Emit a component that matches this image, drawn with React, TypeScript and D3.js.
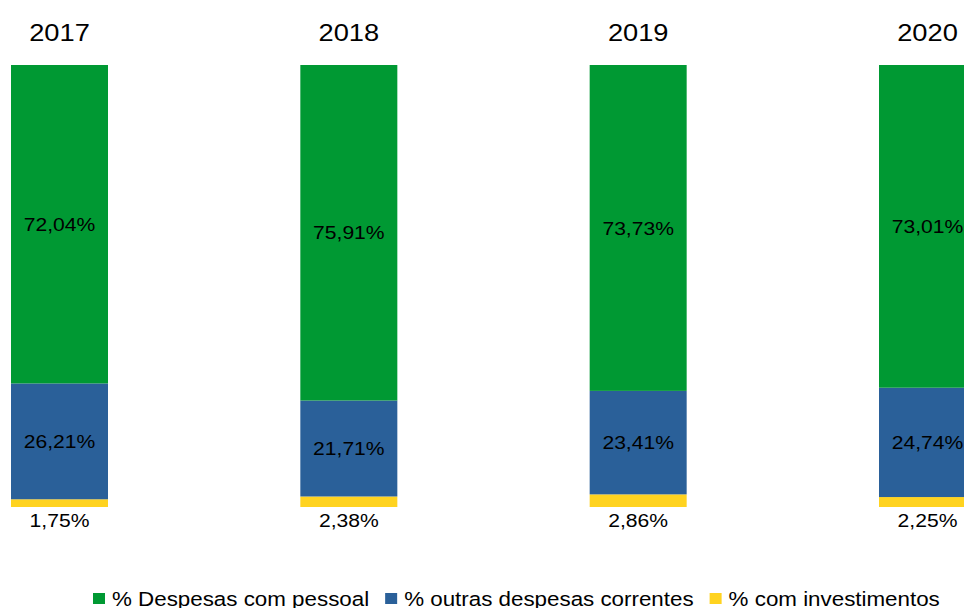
import { useEffect, useRef } from "react";
import * as d3 from "d3";

const years = ["2017", "2018", "2019", "2020"];
const pessoal = [72.04, 75.91, 73.73, 73.01];
const outras = [26.21, 21.71, 23.41, 24.74];
const investimentos = [1.75, 2.38, 2.86, 2.25];
const seriesNames = ["% Despesas com pessoal", "% outras despesas correntes", "% com investimentos"];
const seriesColors = ["#009933", "#2a6099", "#ffd320"];

const W = 964;
const H = 608;
const SX = 1.135; // text in the picture is a bit wider than tall

const fmt = (v: number) => v.toFixed(2).replace(".", ",") + "%";

const App = () => {
  const ref = useRef<SVGSVGElement | null>(null);

  useEffect(() => {
    const svg = d3.select(ref.current);
    svg.selectAll("*").remove();

    const rows = years.map((y, i) => ({
      year: y,
      inv: investimentos[i],
      out: outras[i],
      pes: pessoal[i],
    }));
    const keys = ["inv", "out", "pes"];
    const colorOf: Record<string, string> = { pes: seriesColors[0], out: seriesColors[1], inv: seriesColors[2] };

    const x = d3.scalePoint<string>().domain(years).range([59.5, 927.5]);
    const barW = 97;
    const y = d3.scaleLinear().domain([0, 100]).range([507, 65]);

    const stack = d3.stack<any>().keys(keys)(rows);

    const font = "'Liberation Sans', Arial, sans-serif";

    // bars
    const layers = svg.append("g").selectAll("g")
      .data(stack)
      .join("g")
      .attr("fill", (d: any) => colorOf[d.key]);

    layers.selectAll("rect")
      .data((d: any) => d)
      .join("rect")
      .attr("x", (d: any) => (x(d.data.year) as number) - barW / 2)
      .attr("width", barW)
      .attr("y", (d: any) => y(d[1]))
      .attr("height", (d: any) => y(d[0]) - y(d[1]));

    // value labels
    stack.forEach((layer: any) => {
      svg.append("g").selectAll("text")
        .data(layer)
        .join("text")
        .attr("font-family", font)
        .attr("font-size", 18.6)
        .attr("fill", "#000")
        .attr("text-anchor", "middle")
        .attr("transform", (d: any) => {
          const cx = x(d.data.year) as number;
          const cy = layer.key === "inv" ? y(0) + 20 : (y(d[0]) + y(d[1])) / 2 + 6.7;
          return `translate(${cx},${cy}) scale(${SX},1)`;
        })
        .text((d: any) => fmt(d[1] - d[0]));
    });

    // year labels
    svg.append("g").selectAll("text")
      .data(years)
      .join("text")
      .attr("font-family", font)
      .attr("font-size", 24)
      .attr("fill", "#000")
      .attr("text-anchor", "middle")
      .attr("transform", (d) => `translate(${x(d)},41) scale(${SX},1)`)
      .text((d) => d);

    // legend
    const legend = svg.append("g");
    let lx = 93;
    seriesNames.forEach((name, i) => {
      legend.append("rect")
        .attr("x", lx)
        .attr("y", 593)
        .attr("width", 12)
        .attr("height", 11)
        .attr("fill", seriesColors[i]);
      const t = legend.append("text")
        .attr("font-family", font)
        .attr("font-size", 19.7)
        .attr("fill", "#000")
        .attr("transform", `translate(${lx + 19},605.5) scale(${SX},1)`)
        .text(name);
      const tw = (t.node() as SVGTextElement).getComputedTextLength() * SX;
      lx += 19 + tw + 16;
    });
  }, []);

  return (
    <div style={{ position: "absolute", left: 0, top: 0 }}>
      <svg ref={ref} width={W} height={H} style={{ display: "block", background: "#fff" }} />
    </div>
  );
};

export default App;
